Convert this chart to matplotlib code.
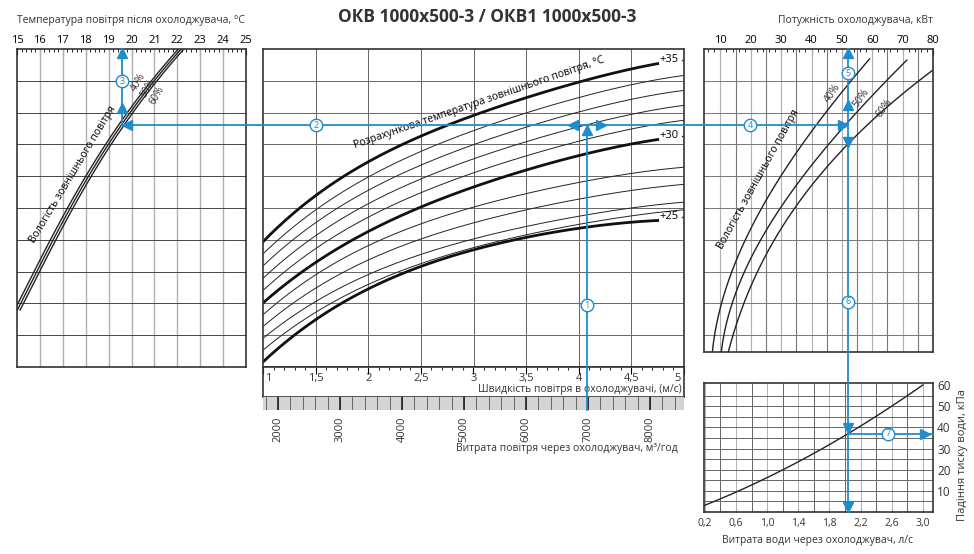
import numpy as np
import matplotlib
matplotlib.use("Agg")
import matplotlib.pyplot as plt

plt.rcParams['font.family'] = ['Open Sans', 'DejaVu Sans']

# ---------------- data ----------------
# middle panel: outside design temperature curves (y in grid rows 0..10)
vel_x = [1, 1.5, 2, 2.5, 3, 3.5, 4, 4.5, 4.75]
t35 = [3.93, 5.41, 6.45, 7.23, 7.92, 8.49, 8.96, 9.34, 9.56]
t30 = [2.01, 3.30, 4.25, 5.03, 5.66, 6.19, 6.67, 6.98, 7.17]
t25 = [0.16, 1.48, 2.48, 3.14, 3.68, 4.09, 4.37, 4.53, 4.62]
thin_x = [1, 1.5, 2, 2.5, 3, 3.5, 4, 4.5, 5]
t34 = [3.55, 4.96, 5.97, 6.76, 7.43, 8.00, 8.50, 8.84, 9.18]
t33 = [3.17, 4.56, 5.55, 6.33, 6.99, 7.55, 8.05, 8.38, 8.71]
t32 = [2.78, 4.15, 5.13, 5.89, 6.55, 7.09, 7.58, 7.91, 8.24]
t31 = [2.40, 3.74, 4.71, 5.46, 6.11, 6.64, 7.13, 7.45, 7.77]
t29 = [1.64, 2.90, 3.83, 4.48, 5.03, 5.45, 5.83, 6.06, 6.29]
t28 = [1.27, 2.48, 3.38, 4.00, 4.54, 4.94, 5.30, 5.53, 5.75]
t27 = [0.90, 2.06, 2.92, 3.52, 4.03, 4.42, 4.76, 4.98, 5.19]
t26 = [0.53, 1.72, 2.61, 3.23, 3.76, 4.15, 4.51, 4.73, 4.95]
heavy_labels = ['+35', '+30', '+25']

# left panel: air temperature after cooler vs row level
left_rows = [1.79, 3.14, 4.62, 5.82, 7.04, 8.08, 8.96, 9.87, 10.0]
temp_40 = [14.88, 15.88, 16.88, 17.88, 18.88, 19.88, 20.88, 21.88, 22.03]
temp_50 = [15.0, 16.0, 17.0, 18.0, 19.0, 20.0, 21.0, 22.0, 22.15]
temp_60 = [15.12, 16.12, 17.12, 18.12, 19.12, 20.12, 21.12, 22.12, 22.27]

# right top panel: cooling power (kW) vs row level
p40_kw = [7.2, 10.9, 16.4, 24.0, 32.9, 40.5, 48.4, 59.2]
p40_rows = [0.47, 2.01, 3.77, 5.03, 6.42, 7.45, 8.49, 9.69]
p50_kw = [10.2, 14.1, 22.0, 29.6, 40.5, 50.3, 59.2, 71.4]
p50_rows = [0.47, 2.01, 3.77, 5.03, 6.42, 7.45, 8.49, 9.65]
p60_kw = [12.5, 18.8, 26.3, 36.2, 46.1, 56.9, 66.8, 79.9]
p60_rows = [0.47, 2.20, 3.77, 5.25, 6.42, 7.45, 8.33, 9.34]

# right bottom panel: water pressure drop
water_flow = [0.2, 0.6, 1.0, 1.4, 1.8, 2.05, 2.2, 2.6, 3.0]
pressure = [3.5, 9, 16, 24, 32, 37, 41, 50, 60]

# example path
ex_vel, ex_row, ex_temp, ex_kw, ex_flow, ex_dp = 4.08, 7.61, 19.6, 52.0, 2.05, 37.0

vel_ticks = [1, 1.5, 2, 2.5, 3, 3.5, 4, 4.5, 5]
vel_labels = ['1', '1,5', '2', '2,5', '3', '3,5', '4', '4,5', '5']
flow_ticks = [2000, 3000, 4000, 5000, 6000, 7000, 8000]
temp_ticks = list(range(15, 26))
kw_ticks = [10, 20, 30, 40, 50, 60, 70, 80]
wf_ticks = [0.2, 0.6, 1.0, 1.4, 1.8, 2.2, 2.6, 3.0]
wf_labels = ['0,2', '0,6', '1,0', '1,4', '1,8', '2,2', '2,6', '3,0']
dp_ticks = [10, 20, 30, 40, 50, 60]

# ---------------- layout ----------------
W, H = 974, 554
fig = plt.figure(figsize=(W / 100, H / 100), dpi=100)
BLUE = '#1f8ccc'

def axp(x0, y0, x1, y1):
    return fig.add_axes([x0 / W, 1 - y1 / H, (x1 - x0) / W, (y1 - y0) / H])

def smooth(x, y, n=200, deg=4):
    c = np.polyfit(x, y, deg)
    xx = np.linspace(min(x), max(x), n)
    return xx, np.polyval(c, xx)

def style(ax):
    for s in ax.spines.values():
        s.set_linewidth(1.2)
        s.set_color('#333333')

# left panel
axL = axp(17, 49, 246, 367)
axL.set_xlim(15, 25); axL.set_ylim(0, 10)
for t in temp_ticks[1:-1]:
    axL.axvline(t, color='#b0b0b0', lw=1.0)
for r in range(1, 10):
    axL.axhline(r, color='#444444', lw=0.7)
for tl in (temp_40, temp_50, temp_60):
    yy, xx = smooth(left_rows, tl, deg=3)
    axL.plot(xx, yy, color='#222222', lw=1.0)
axL.xaxis.tick_top()
axL.set_xticks(temp_ticks)
axL.set_xticks(np.arange(15, 25.01, 0.2), minor=True)
axL.tick_params(axis='x', which='major', direction='in', length=4, labelsize=8, pad=2)
axL.tick_params(axis='x', which='minor', direction='in', length=2)
axL.set_yticks([])
style(axL)
axL.text(17.45, 6.05, 'Вологість зовнішнього повітря', rotation=59, fontsize=7.5,
         ha='center', va='center')
for lab, xx, yy in (('40%', 20.3, 8.95), ('50%', 20.7, 8.75), ('60%', 21.1, 8.55)):
    axL.text(xx, yy, lab, rotation=60, fontsize=7, ha='center', va='center', color='#333')

# middle panel
axM = axp(263, 49, 684, 367)
axM.set_xlim(1, 5); axM.set_ylim(0, 10)
for v in vel_ticks[1:-1]:
    axM.axvline(v, color='#666666', lw=0.7)
for r in range(1, 10):
    axM.axhline(r, color='#666666', lw=0.7)
for arr in (t34, t33, t32, t31, t29, t28, t27, t26):
    xx, yy = smooth(thin_x, arr)
    axM.plot(xx, yy, color='#222222', lw=0.7)
for arr, lab in zip((t35, t30, t25), heavy_labels):
    xx, yy = smooth(vel_x, arr)
    axM.plot(xx, yy, color='#111111', lw=2.0)
    axM.text(4.77, arr[-1] + 0.1, lab, fontsize=8, ha='left', va='center')
    axM.plot([4.98, 5.0], [arr[-1] + 0.1] * 2, color='#333', lw=1)
axM.set_xticks([]); axM.set_yticks([])
style(axM)
axM.text(3.05, 8.3, 'Розрахункова температура зовнішнього повітря, °C', rotation=19,
         fontsize=7.5, ha='center', va='center')

# velocity band
axV = axp(263, 367, 684, 397)
axV.set_xlim(1, 5); axV.set_ylim(0, 1)
axV.set_yticks([])
axV.xaxis.tick_top()
axV.set_xticks(vel_ticks)
axV.set_xticklabels([])
axV.set_xticks(np.arange(1, 5.01, 0.1), minor=True)
axV.tick_params(axis='x', which='major', direction='in', length=5)
axV.tick_params(axis='x', which='minor', direction='in', length=2)
for v, l in zip(vel_ticks, vel_labels):
    axV.text(v + (0.02 if v == 1 else -0.03 if v == 5 else 0), 0.62, l, fontsize=8,
             ha='left' if v == 1 else 'right' if v == 5 else 'center', va='center', color='#333')
axV.text(4.98, 0.25, 'Швидкість повітря в охолоджувачі, (м/с)', fontsize=7.5, ha='right', va='center', color='#333')
style(axV)

# flow band
axG = axp(263, 397, 684, 410)
axG.set_xlim(1758, 8548); axG.set_ylim(0, 1)
axG.set_facecolor('#d4d4d4')
for f in np.arange(1800, 8548, 200):
    axG.axvline(f, color='#555555', lw=0.6)
for f in flow_ticks:
    axG.axvline(f, color='#222222', lw=1.2)
axG.set_yticks([])
axG.set_xticks(flow_ticks)
axG.set_xticklabels([str(f) for f in flow_ticks], rotation=90, fontsize=8, color='#333')
axG.tick_params(axis='x', length=0, pad=5)
for s in axG.spines.values():
    s.set_visible(False)
fig.text(678 / W, 1 - 448 / H, 'Витрата повітря через охолоджувач, м³/год', fontsize=7.5,
         ha='right', va='center', color='#333')

# right top panel
axR = axp(704, 49, 933, 352)
axR.set_xlim(4.6, 79.9)
axR.set_ylim(10 - (352 - 49) / 31.8, 10)
for k in np.arange(10, 80, 5):
    axR.axvline(k, color='#b0b0b0' if k % 10 == 0 else '#777777', lw=0.8)
for r in range(1, 10):
    axR.axhline(r, color='#777777', lw=0.7)
for kw, rows in ((p40_kw, p40_rows), (p50_kw, p50_rows), (p60_kw, p60_rows)):
    yy, xx = smooth(rows, kw, deg=3)
    axR.plot(xx, yy, color='#222222', lw=1.0)
axR.xaxis.tick_top()
axR.set_xticks(kw_ticks)
axR.set_xticks(np.arange(6, 80, 2), minor=True)
axR.tick_params(axis='x', which='major', direction='in', length=4, labelsize=8, pad=2)
axR.tick_params(axis='x', which='minor', direction='in', length=2)
axR.set_yticks([])
style(axR)
axR.text(22.5, 5.9, 'Вологість зовнішнього повітря', rotation=61, fontsize=7.5, ha='center', va='center')
for lab, xx, yy in (('40%', 47.0, 8.6), ('50%', 56.5, 8.45), ('60%', 64.0, 8.15)):
    axR.text(xx, yy, lab, rotation=55, fontsize=7.5, ha='center', va='center', color='#333')

# right bottom panel
axP = axp(704, 383, 933, 512)
axP.set_xlim(0.19, 3.13); axP.set_ylim(0, 61)
for x in np.arange(0.2, 3.13, 0.2):
    axP.axvline(x, color='#b0b0b0' if round(x * 10) % 4 == 2 else '#666666', lw=0.7)
for y in np.arange(5, 60, 5):
    axP.axhline(y, color='#666666', lw=0.7)
xx, yy = smooth(water_flow, pressure, deg=2)
axP.plot(xx, yy, color='#222222', lw=1.0)
axP.set_xticks(wf_ticks); axP.set_xticklabels(wf_labels)
axP.set_xticks(np.arange(0.2, 3.13, 0.2), minor=True)
axP.tick_params(axis='x', which='both', direction='in', length=3, labelsize=7.5, pad=4, colors='#333')
axP.yaxis.tick_right()
axP.set_yticks(dp_ticks)
axP.tick_params(axis='y', direction='in', length=0, labelsize=8.5, pad=3, colors='#333')
style(axP)
fig.text(818 / W, 1 - 540 / H, 'Витрата води через охолоджувач, л/с', fontsize=7.5, ha='center', va='center', color='#333')
fig.text(962 / W, 1 - 455 / H, 'Падіння тиску води, кПа', fontsize=8, rotation=90, ha='center', va='center', color='#333')

# titles
fig.text(487 / W, 1 - 17 / H, 'ОКВ 1000х500-3 / ОКВ1 1000х500-3', fontsize=12.5, fontweight='bold',
         ha='center', va='center', color='#333')
fig.text(17 / W, 1 - 20 / H, 'Температура повітря після охолоджувача, °C', fontsize=7.5, ha='left', va='center', color='#333')
fig.text(933 / W, 1 - 20 / H, 'Потужність охолоджувача, кВт', fontsize=7.5, ha='right', va='center', color='#333')

# overlay for the example path
ov = fig.add_axes([0, 0, 1, 1], zorder=10)
ov.set_xlim(0, W); ov.set_ylim(H, 0); ov.axis('off'); ov.patch.set_alpha(0)

def P(ax, x, y):
    return ov.transData.inverted().transform(ax.transData.transform((x, y)))

x1, yrow = P(axM, ex_vel, ex_row)
_, ybot = ov.transData.inverted().transform(axG.transAxes.transform((0, 0)))
xl, _ = P(axL, ex_temp, ex_row)
_, ytop = P(axL, ex_temp, 10)
xr, _ = P(axR, ex_kw, ex_row)
xw, ydp = P(axP, ex_flow, ex_dp)
_, ypbot = P(axP, ex_flow, 0)
xpr, _ = P(axP, 3.13, 0)

lw = 1.3
ov.plot([x1, x1], [ybot, yrow], color=BLUE, lw=lw)
ov.plot([xl, xr], [yrow, yrow], color=BLUE, lw=lw)
ov.plot([xl, xl], [yrow, ytop], color=BLUE, lw=lw)
ov.plot([xr, xr], [ytop, ypbot], color=BLUE, lw=lw)
ov.plot([xw, xpr], [ydp, ydp], color=BLUE, lw=lw)

arrows = [(x1, yrow + 5, '^'), (x1 - 14, yrow, '<'), (x1 + 14, yrow, '>'),
          (xl + 5, yrow, '<'), (xl, yrow - 17, '^'), (xl, ytop + 4, '^'),
          (xr - 5, yrow, '>'), (xr, yrow - 20, '^'), (xr, ytop + 4, '^'), (xr, yrow + 17, 'v'),
          (xr, ydp - 6, 'v'), (xr, ypbot - 5, 'v'), (xpr - 8, ydp, '>')]
for ax_, ay_, m in arrows:
    ov.plot(ax_, ay_, marker=m, color=BLUE, ms=7, mec=BLUE)

circles = [('1', x1, 305), ('2', 316, yrow), ('3', xl, 81), ('4', 750, yrow),
           ('5', xr, 73), ('6', xr, 302), ('7', 888, ydp)]
for lab, cx, cy in circles:
    ov.plot(cx, cy, 'o', ms=9, mfc='white', mec=BLUE, mew=1.0)
    ov.text(cx, cy, lab, fontsize=6.5, color=BLUE, ha='center', va='center')

fig.savefig('out.png', dpi=100)
